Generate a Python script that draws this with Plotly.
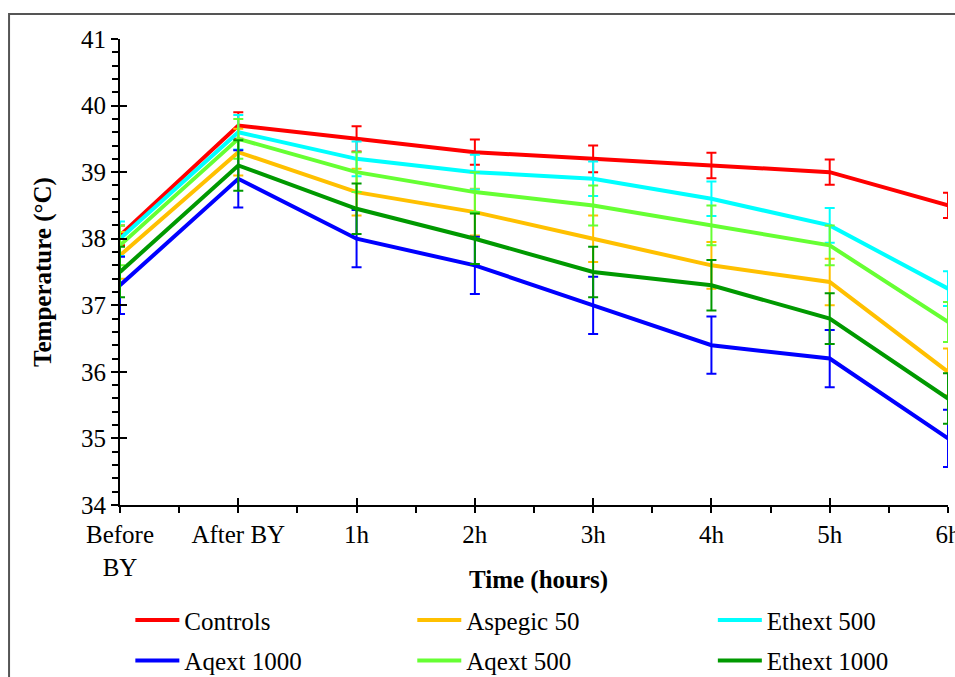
import plotly.graph_objects as go

categories = ["Before<br>BY", "After BY", "1h", "2h", "3h", "4h", "5h", "6h"]

series_names = ["Controls", "Aspegic 50", "Ethext 500", "Aqext 1000", "Aqext 500", "Ethext 1000"]
controls   = [38.05, 39.70, 39.50, 39.30, 39.20, 39.10, 39.00, 38.50]
aspegic50  = [37.75, 39.30, 38.70, 38.40, 38.00, 37.60, 37.35, 36.00]
ethext500  = [38.00, 39.60, 39.20, 39.00, 38.90, 38.60, 38.20, 37.25]
aqext1000  = [37.30, 38.90, 38.00, 37.60, 37.00, 36.40, 36.20, 35.00]
aqext500   = [37.90, 39.50, 39.00, 38.70, 38.50, 38.20, 37.90, 36.75]
ethext1000 = [37.50, 39.10, 38.45, 38.00, 37.50, 37.30, 36.80, 35.60]

err_controls   = [0.15, 0.20, 0.19, 0.19, 0.20, 0.19, 0.19, 0.19]
err_aspegic50  = [0.35, 0.35, 0.35, 0.35, 0.35, 0.35, 0.35, 0.35]
err_ethext500  = [0.26, 0.26, 0.26, 0.26, 0.26, 0.26, 0.26, 0.26]
err_aqext1000  = [0.43, 0.43, 0.43, 0.43, 0.43, 0.43, 0.43, 0.43]
err_aqext500   = [0.30, 0.30, 0.30, 0.30, 0.30, 0.30, 0.30, 0.30]
err_ethext1000 = [0.38, 0.38, 0.38, 0.38, 0.38, 0.38, 0.38, 0.38]

x_title = "Time (hours)"
y_title = "Temperature (°C)"

values = [controls, aspegic50, ethext500, aqext1000, aqext500, ethext1000]
errors = [err_controls, err_aspegic50, err_ethext500, err_aqext1000, err_aqext500, err_ethext1000]
colors = ["#FF0000", "#FFC000", "#00FFFF", "#0000FF", "#66FF33", "#009900"]
legend_ids = ["legend", "legend2", "legend3", "legend", "legend2", "legend3"]

xidx = list(range(len(categories)))
FONT = "Liberation Serif, Times New Roman, serif"
FS = 25

fig = go.Figure()
for name, vals, errs, col, lg in zip(series_names, values, errors, colors, legend_ids):
    fig.add_trace(go.Scatter(
        x=xidx, y=vals, name=name, mode="lines",
        line=dict(color=col, width=4),
        error_y=dict(type="data", array=errs, visible=True, color=col, thickness=2, width=5),
        legend=lg, legendgroup=name, cliponaxis=True,
    ))

# overlay axes for inside half of crossing ticks
fig.add_trace(go.Scatter(x=[0, 7], y=[34, 41], xaxis="x2", yaxis="y2", mode="markers",
                         marker=dict(opacity=0), showlegend=False, hoverinfo="skip"))

tickfont = dict(family=FONT, size=FS, color="#000000")
legfont = dict(family=FONT, size=FS, color="#000000")
leg_common = dict(y=-0.198, xanchor="left", yanchor="top", orientation="v",
                  font=legfont, bgcolor="rgba(0,0,0,0)", traceorder="grouped",
                  tracegroupgap=5, itemwidth=44)
fig.update_layout(
    width=955, height=677,
    margin=dict(l=120, r=7, t=39, b=172, autoexpand=False),
    paper_bgcolor="white", plot_bgcolor="white",
    font=dict(family=FONT, size=FS, color="#000000"),
    xaxis=dict(
        range=[0, 7], tickmode="array", tickvals=xidx, ticktext=categories,
        showgrid=False, zeroline=False, showline=True, linecolor="black", linewidth=2,
        ticks="outside", ticklen=6, tickwidth=2, tickcolor="black", tickfont=tickfont,
        ticklabeloverflow="allow", automargin=False,
        minor=dict(dtick=0.5, tick0=0, ticks="outside", ticklen=6, tickwidth=2, tickcolor="black", showgrid=False),
    ),
    yaxis=dict(
        range=[34, 41], dtick=1, tick0=34, automargin=False,
        showgrid=False, zeroline=False, showline=True, linecolor="black", linewidth=2,
        ticks="outside", ticklen=7, tickwidth=2, tickcolor="black", tickfont=tickfont,
        minor=dict(dtick=0.2, ticks="outside", ticklen=6, tickwidth=2, tickcolor="black", showgrid=False),
        title=dict(text="<b>" + y_title + "</b>", font=dict(family=FONT, size=FS), standoff=22),
    ),
    xaxis2=dict(
        overlaying="x", anchor="y2", range=[0, 7], tickmode="array", tickvals=xidx,
        showticklabels=False, showgrid=False, zeroline=False, showline=False,
        ticks="inside", ticklen=7, tickwidth=2, tickcolor="black", side="bottom",
    ),
    yaxis2=dict(
        overlaying="y", anchor="x2", range=[34, 41], dtick=1, tick0=34,
        showticklabels=False, showgrid=False, zeroline=False, showline=False,
        ticks="inside", ticklen=7, tickwidth=2, tickcolor="black", side="left",
    ),
    legend=dict(x=0.0125, **leg_common),
    legend2=dict(x=0.353, **leg_common),
    legend3=dict(x=0.716, **leg_common),
    showlegend=True,
)

# x-axis title (placed as text so it can sit close to the two-line tick label)
fig.add_annotation(text="<b>" + x_title + "</b>", xref="paper", yref="paper",
                   x=0.505, y=-0.161, xanchor="center", yanchor="middle",
                   showarrow=False, font=dict(family=FONT, size=FS, color="#000000"))

# outer frame of the original figure
fig.add_shape(type="rect", xref="paper", yref="paper",
              x0=-0.134, y0=-0.6, x1=1.2, y1=1.0536,
              line=dict(color="#555555", width=2), fillcolor="rgba(0,0,0,0)", layer="below")

fig.write_html("out.html")
